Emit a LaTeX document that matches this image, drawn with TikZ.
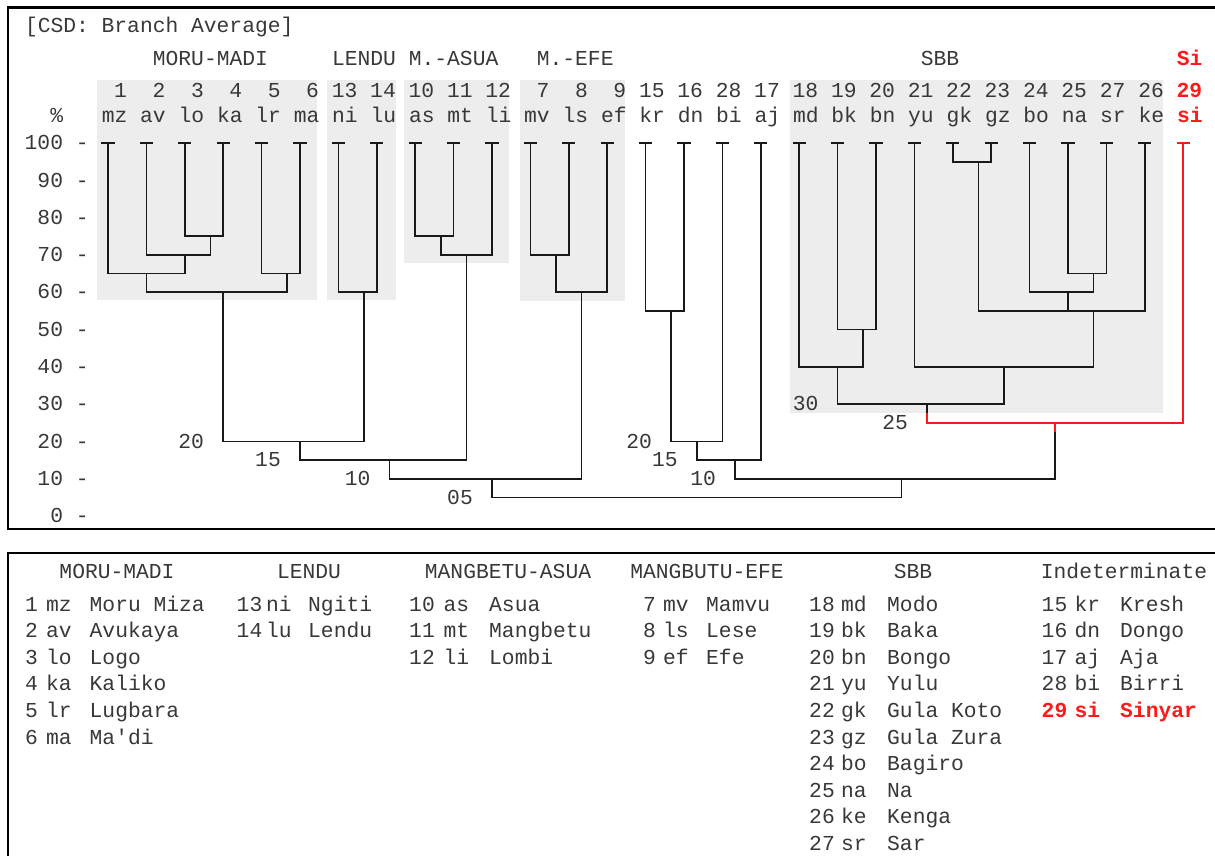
\documentclass[tikz,border=0pt]{standalone}
\usepackage{fontspec}
\setmainfont{Liberation Mono}
\usepackage{tikz}
\usetikzlibrary{positioning,calc}
\definecolor{ink}{HTML}{383838}
\definecolor{shade}{HTML}{EDEDED}
\definecolor{sired}{HTML}{FF1A1A}
\tikzstyle{txt}=[inner sep=0pt,text=ink]
\tikzstyle{num}=[txt,anchor=base east]
\tikzstyle{abbr}=[txt,anchor=base west]
\tikzstyle{head}=[txt,anchor=base]
\tikzstyle{axlab}=[txt,anchor=east,text height=13.4pt,text depth=0pt]
\tikzstyle{pct}=[txt,text height=13.4pt,text depth=0pt]
\tikzstyle{hot}=[text=sired,font=\fontsize{21.3}{25}\selectfont\bfseries]
\tikzstyle{branch}=[draw=black!90,line width=1.7pt]
\tikzstyle{redbranch}=[draw=sired,line width=1.6pt]
\tikzstyle{band}=[fill=shade]
\tikzstyle{panel}=[draw=black,line width=2.3pt]

\begin{document}
\begin{tikzpicture}[x=1pt,y=-1pt,font=\fontsize{21.3}{25}\selectfont]
\useasboundingbox (0,0) rectangle (1215,855);
\clip (0,0) rectangle (1215,855);
\draw[panel] (8.3,7.5) rectangle (1240,529);
\draw[panel] (8.3,553.3) rectangle (1240,880);
\fill[band] (97,80) rectangle (317,300);
\fill[band] (327,80) rectangle (396,300);
\fill[band] (404,80) rectangle (509,263);
\fill[band] (520,80) rectangle (625,301);
\fill[band] (790,80) rectangle (1163,413);

\begin{scope}[shift={(108,516)},x=12.8pt,y=3.73pt]
\node[txt,anchor=base west] (title) at (-6.5,129.5) {[CSD: Branch Average]};
\node[head] (gmoru) at (8,120.9) {MORU-MADI};
\node[head] (glendu) at (20,120.9) {LENDU};
\node[head] (gasua) at (27,120.9) {M.-ASUA};
\node[head] (gefe) at (36.5,120.9) {M.-EFE};
\node[head] (gsbb) at (65,120.9) {SBB};
\node[head,hot] (gsi) at (84.5,120.9) {Si};
\node[head] (pcent) at (-4,105.6) {\%};
\foreach \v in {0,10,...,100}
  \node[axlab] (l\v) at (-1.5,\v) {\v\ -};

\foreach \c/\n/\k in {0/mz/1,3/av/2,6/lo/3,9/ka/4,12/lr/5,15/ma/6,18/ni/13,21/lu/14,24/as/10,27/mt/11,30/li/12,33/mv/7,36/ls/8,39/ef/9,42/kr/15,45/dn/16,48/bi/28,51/aj/17,54/md/18,57/bk/19,60/bn/20,63/yu/21,66/gk/22,69/gz/23,72/bo/24,75/na/25,78/sr/27,81/ke/26}{
  \coordinate (\n) at (\c,100);
  \draw[branch] ([xshift=-6.6pt]\n) -- ([xshift=6.6pt]\n);
  \node[num] (n\n) at (\c+1.5,112.3) {\k};
  \node[abbr] (c\n) at (\c-0.5,105.6) {\n};
}
\coordinate (si) at (84,100);
\draw[redbranch] ([xshift=-6.6pt]si) -- ([xshift=6.6pt]si);
\node[num,hot] (nsi) at (85.5,112.3) {29};
\node[abbr,hot] (csi) at (83.5,105.6) {si};

\coordinate (loka) at (8,75);
\coordinate (avlo) at (6,70);
\coordinate (mzav) at (3,65);
\coordinate (lrma) at (14,65);
\coordinate (moru) at (9,60);
\coordinate (nilu) at (20,60);
\coordinate (morulu) at (15,20);
\coordinate (asmt) at (26,75);
\coordinate (asua) at (28,70);
\coordinate (mlasua) at (22,15);
\coordinate (mvls) at (35,70);
\coordinate (efe) at (37,60);
\coordinate (wbranch) at (30,10);
\coordinate (krdn) at (44,55);
\coordinate (krbi) at (46,20);
\coordinate (kraj) at (49,15);
\coordinate (bkbn) at (59,50);
\coordinate (mdbk) at (57,40);
\coordinate (gkgz) at (68,95);
\coordinate (nasr) at (77,65);
\coordinate (bona) at (75,60);
\coordinate (gkke) at (77,55);
\coordinate (yugk) at (70,40);
\coordinate (sbb) at (64,30);
\coordinate (sbbcut) at (64,27.6);
\coordinate (sbbsi) at (74,25);
\coordinate (sicut) at (74,22.5);
\coordinate (ebranch) at (62,10);
\coordinate (root) at (46,5);

\draw[branch] (lo) |- (loka) -| (ka);
\draw[branch] (av) |- (avlo) -| (loka);
\draw[branch] (mz) |- (mzav) -| (avlo);
\draw[branch] (lr) |- (lrma) -| (ma);
\draw[branch] (mzav) |- (moru) -| (lrma);
\draw[branch] (ni) |- (nilu) -| (lu);
\draw[branch] (moru) |- (morulu) -| (nilu);
\draw[branch] (as) |- (asmt) -| (mt);
\draw[branch] (asmt) |- (asua) -| (li);
\draw[branch] (morulu) |- (mlasua) -| (asua);
\draw[branch] (mv) |- (mvls) -| (ls);
\draw[branch] (mvls) |- (efe) -| (ef);
\draw[branch] (mlasua) |- (wbranch) -| (efe);
\draw[branch] (kr) |- (krdn) -| (dn);
\draw[branch] (krdn) |- (krbi) -| (bi);
\draw[branch] (krbi) |- (kraj) -| (aj);
\draw[branch] (bk) |- (bkbn) -| (bn);
\draw[branch] (md) |- (mdbk) -| (bkbn);
\draw[branch] (gk) |- (gkgz) -| (gz);
\draw[branch] (na) |- (nasr) -| (sr);
\draw[branch] (bo) |- (bona) -| (nasr);
\draw[branch] (gkgz) |- (gkke) -| (ke);
\draw[branch] (bona) -- (bona |- gkke);
\draw[branch] (yu) |- (yugk) -| (gkke);
\draw[branch] (mdbk) |- (sbb) -| (yugk);
\draw[branch] (sbb) -- (sbbcut);
\draw[redbranch] (sbbcut) |- (sbbsi) -| (si);
\draw[redbranch] (sbbsi) -- (sicut);
\draw[branch] (kraj) |- (ebranch) -| (sicut);
\draw[branch] (wbranch) |- (root) -| (ebranch);

\node[pct] (h20a) at (6.5,20) {20};
\node[pct] (h15a) at (12.5,15) {15};
\node[pct] (h10a) at (19.5,10) {10};
\node[pct] (h05) at (27.5,5) {05};
\node[pct] (h20b) at (41.5,20) {20};
\node[pct] (h15b) at (43.5,15) {15};
\node[pct] (h10b) at (46.5,10) {10};
\node[pct] (h30) at (54.5,30) {30};
\node[pct] (h25) at (61.5,25) {25};
\end{scope}

\node[head] (kmoru) at (117,578) {MORU-MADI};
\node[head] (klendu) at (309,578) {LENDU};
\node[head] (kasua) at (508,578) {MANGBETU-ASUA};
\node[head] (kefe) at (707,578) {MANGBUTU-EFE};
\node[head] (ksbb) at (913,578) {SBB};
\node[head] (kind) at (1124,578) {Indeterminate};

\foreach \k/\n/\t [count=\r from 0] in {1/mz/Moru Miza,2/av/Avukaya,3/lo/Logo,4/ka/Kaliko,5/lr/Lugbara,6/ma/Ma\textquotesingle di}{
  \node[num] (lnum\k) at (38,{611+26.6*\r}) {\k};
  \node[abbr] (labbr\k) at (46,{611+26.6*\r}) {\n};
  \node[abbr] (lname\k) at (89.5,{611+26.6*\r}) {\t};
}
\foreach \k/\n/\t [count=\r from 0] in {13/ni/Ngiti,14/lu/Lendu}{
  \node[num] (lnum\k) at (262.5,{611+26.6*\r}) {\k};
  \node[abbr] (labbr\k) at (266,{611+26.6*\r}) {\n};
  \node[abbr] (lname\k) at (308,{611+26.6*\r}) {\t};
}
\foreach \k/\n/\t [count=\r from 0] in {10/as/Asua,11/mt/Mangbetu,12/li/Lombi}{
  \node[num] (lnum\k) at (435,{611+26.6*\r}) {\k};
  \node[abbr] (labbr\k) at (443.5,{611+26.6*\r}) {\n};
  \node[abbr] (lname\k) at (489,{611+26.6*\r}) {\t};
}
\foreach \k/\n/\t [count=\r from 0] in {7/mv/Mamvu,8/ls/Lese,9/ef/Efe}{
  \node[num] (lnum\k) at (656,{611+26.6*\r}) {\k};
  \node[abbr] (labbr\k) at (663,{611+26.6*\r}) {\n};
  \node[abbr] (lname\k) at (706,{611+26.6*\r}) {\t};
}
\foreach \k/\n/\t [count=\r from 0] in {18/md/Modo,19/bk/Baka,20/bn/Bongo,21/yu/Yulu,22/gk/Gula Koto,23/gz/Gula Zura,24/bo/Bagiro,25/na/Na,26/ke/Kenga,27/sr/Sar}{
  \node[num] (lnum\k) at (835,{611+26.6*\r}) {\k};
  \node[abbr] (labbr\k) at (841,{611+26.6*\r}) {\n};
  \node[abbr] (lname\k) at (887,{611+26.6*\r}) {\t};
}
\foreach \k/\n/\t [count=\r from 0] in {15/kr/Kresh,16/dn/Dongo,17/aj/Aja,28/bi/Birri}{
  \node[num] (lnum\k) at (1067.5,{611+26.6*\r}) {\k};
  \node[abbr] (labbr\k) at (1074.5,{611+26.6*\r}) {\n};
  \node[abbr] (lname\k) at (1120,{611+26.6*\r}) {\t};
}
\node[num,hot] (lnum29) at (1067.5,717.4) {29};
\node[abbr,hot] (labbr29) at (1074.5,717.4) {si};
\node[abbr,hot] (lname29) at (1120,717.4) {Sinyar};
\end{tikzpicture}
\end{document}
